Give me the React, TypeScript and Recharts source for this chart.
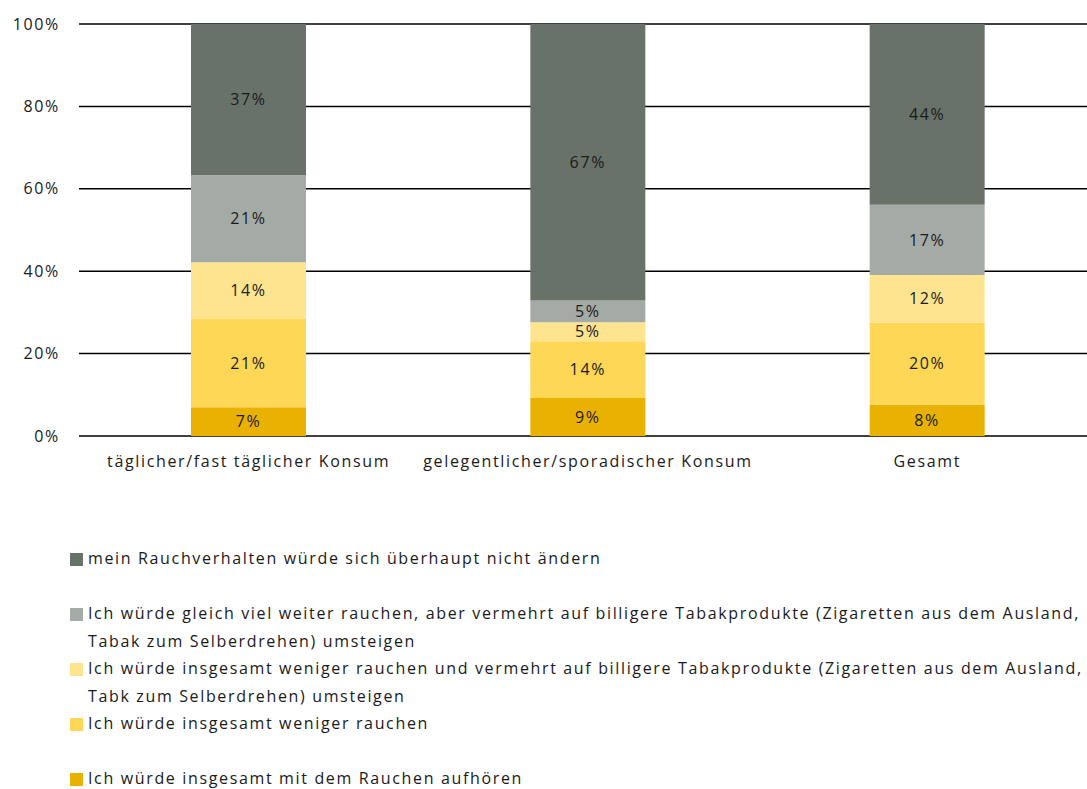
import React from 'react';
import { BarChart, Bar, XAxis, YAxis, CartesianGrid, LabelList } from 'recharts';

const categories = ['täglicher/fast täglicher Konsum', 'gelegentlicher/sporadischer Konsum', 'Gesamt'];

// stacked from bottom to top
const aufhoeren = [7.0, 9.2, 7.6];
const weniger = [21.4, 13.8, 19.9];
const wenigerBilliger = [13.8, 4.6, 11.6];
const gleichBilliger = [21.1, 5.3, 17.0];
const keineAenderung = [36.7, 67.1, 43.9];

const yTicks = [0, 20, 40, 60, 80, 100];

const series = [
    { key: 'keineAenderung', color: '#687269', label: 'mein Rauchverhalten würde sich überhaupt nicht ändern' },
    { key: 'gleichBilliger', color: '#a4aba6', label: 'Ich würde gleich viel weiter rauchen, aber vermehrt auf billigere Tabakprodukte (Zigaretten aus dem Ausland,\nTabak zum Selberdrehen) umsteigen' },
    { key: 'wenigerBilliger', color: '#fee48f', label: 'Ich würde insgesamt weniger rauchen und vermehrt auf billigere Tabakprodukte (Zigaretten aus dem Ausland,\nTabk zum Selberdrehen) umsteigen' },
    { key: 'weniger', color: '#fed757', label: 'Ich würde insgesamt weniger rauchen' },
    { key: 'aufhoeren', color: '#e9b200', label: 'Ich würde insgesamt mit dem Rauchen aufhören' },
];

const data = categories.map((name, i) => ({
    name,
    aufhoeren: aufhoeren[i],
    weniger: weniger[i],
    wenigerBilliger: wenigerBilliger[i],
    gleichBilliger: gleichBilliger[i],
    keineAenderung: keineAenderung[i],
}));

const FONT = '"Open Sans", sans-serif';
const SPACING = 1.65;
const textStyle = { fill: '#1a1a1a', fontSize: 16, fontFamily: FONT, letterSpacing: SPACING };
const stackOrder = [...series].reverse();

export default function App() {
    return (
        <div style={{
            position: 'fixed', top: 0, left: 0, width: 1087, height: 789, overflow: 'hidden',
            padding: 8, boxSizing: 'border-box', background: '#fff', fontFamily: FONT, color: '#1a1a1a',
        }}>
            <BarChart width={1089} height={478} data={data}
                margin={{ top: 16, right: 0, left: 0, bottom: 0 }}>
                <CartesianGrid horizontal vertical={false} stroke="#000" strokeWidth={1.5} />
                <YAxis type="number" domain={[0, 100]} ticks={yTicks} width={71}
                    tickFormatter={(v: number) => `${v}%`}
                    axisLine={false} tickLine={false} tickMargin={13}
                    tick={textStyle} />
                <XAxis dataKey="name" height={50} axisLine={false} tickLine={false} tickMargin={14}
                    tick={textStyle} />
                {stackOrder.map(s => (
                    <Bar key={s.key} dataKey={s.key} stackId="a" fill={s.color} barSize={115}
                        isAnimationActive={false}>
                        <LabelList dataKey={s.key} position="center"
                            formatter={(v: any) => `${Math.round(Number(v))}%`}
                            style={textStyle} />
                    </Bar>
                ))}
            </BarChart>

            {/* Legend */}
            <div style={{ marginTop: 58, paddingLeft: 62, fontSize: 16, letterSpacing: SPACING }}>
                {series.map(s => (
                    <div key={s.key} style={{ height: 55, display: 'flex', alignItems: 'flex-start' }}>
                        <span style={{ width: 13, height: 13, background: s.color, marginTop: 9, marginRight: 5, flexShrink: 0 }} />
                        <span style={{ whiteSpace: 'pre', lineHeight: '28px' }}>{s.label}</span>
                    </div>
                ))}
            </div>
        </div>
    );
}
